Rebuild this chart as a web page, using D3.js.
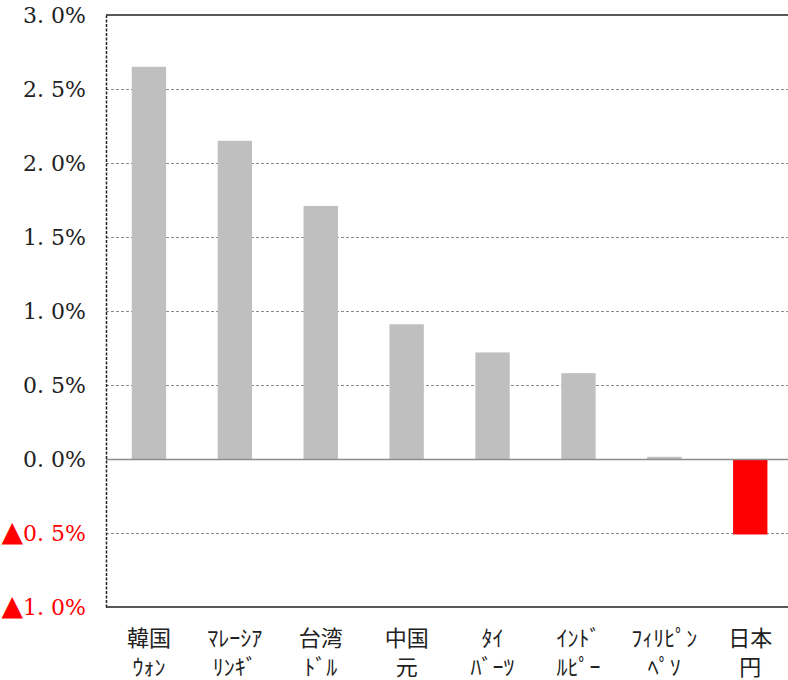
<!DOCTYPE html>
<html>
<head>
<meta charset="utf-8">
<script src="https://cdn.jsdelivr.net/npm/d3@7"></script>
<style>
  body { margin: 0; background: #fff; }
</style>
</head>
<body>
<div id="chart"></div>
<script>
const currencyTop = ['韓国', 'ﾏﾚｰｼｱ', '台湾', '中国', 'ﾀｲ', 'ｲﾝﾄﾞ', 'ﾌｨﾘﾋﾟﾝ', '日本'];
const currencyBottom = ['ｳｫﾝ', 'ﾘﾝｷﾞ', 'ﾄﾞﾙ', '元', 'ﾊﾞｰﾂ', 'ﾙﾋﾟｰ', 'ﾍﾟｿ', '円'];
const changes = [2.65, 2.15, 1.71, 0.91, 0.72, 0.58, 0.015, -0.51];
const tickValues = [3.0, 2.5, 2.0, 1.5, 1.0, 0.5, 0.0, -0.5, -1.0];

let width = 788;
let height = 680;

let margin = {
    top: 15,
    right: 0,
    bottom: 73,
    left: 106
}

let data = currencyTop.map((c, i) => ({ key: i, top: c, bottom: currencyBottom[i], value: changes[i] }));

// the category step runs a little past the right edge in the original
let x = d3.scaleBand()
        .domain(data.map(d => d.key))
        .range([margin.left, margin.left + 8 * 85.9])
        .paddingInner(0.6)
        .paddingOuter(0.3);

let y = d3.scaleLinear()
        .domain([-1.0, 3.0])
        .range([height - margin.bottom, margin.top]);

let svg = d3.select('#chart').append('svg')
        .attr('width', width)
        .attr('height', height);

// gridlines
svg.append('g')
    .selectAll('line')
    .data(tickValues.filter(t => t !== 3.0 && t !== -1.0 && t !== 0))
    .join('line')
        .attr('x1', margin.left)
        .attr('x2', width - margin.right)
        .attr('y1', d => Math.round(y(d)) + 0.5)
        .attr('y2', d => Math.round(y(d)) + 0.5)
        .attr('stroke', '#8c8c8c')
        .attr('stroke-dasharray', '3,2');

// bars
svg.append('g')
    .selectAll('rect')
    .data(data)
    .join('rect')
        .attr('x', d => x(d.key))
        .attr('width', x.bandwidth())
        .attr('y', d => y(Math.max(0, d.value)))
        .attr('height', d => Math.abs(y(d.value) - y(0)))
        .attr('fill', d => d.value < 0 ? '#ff0000' : '#bfbfbf');

// zero line
svg.append('line')
    .attr('x1', margin.left)
    .attr('x2', width - margin.right)
    .attr('y1', Math.round(y(0)) + 0.5)
    .attr('y2', Math.round(y(0)) + 0.5)
    .attr('stroke', '#8c8c8c')
    .attr('stroke-width', 1.5);

// top and bottom frame
svg.append('line')
    .attr('x1', margin.left).attr('x2', width - margin.right)
    .attr('y1', y(3.0)).attr('y2', y(3.0))
    .attr('stroke', '#222').attr('stroke-width', 1.5);
svg.append('line')
    .attr('x1', margin.left).attr('x2', width - margin.right)
    .attr('y1', y(-1.0)).attr('y2', y(-1.0))
    .attr('stroke', '#222').attr('stroke-width', 1.5);

// left axis
let yAxis = svg.append('g')
    .attr('transform', `translate(${margin.left},0)`)
    .call(d3.axisLeft(y).tickValues(tickValues).tickSize(0).tickPadding(20).tickFormat(''));

yAxis.select('.domain')
    .attr('stroke', '#222')
    .attr('stroke-width', 1.5)
    .attr('stroke-dasharray', '3,1.5');

let tickText = yAxis.selectAll('.tick text')
    .attr('font-family', '"DejaVu Serif", "Liberation Serif", serif')
    .attr('font-size', 22)
    .attr('fill', d => d < 0 ? '#ff0000' : '#222')
    .style('white-space', 'pre');

tickText.filter(d => d < 0)
    .append('tspan')
    .attr('font-family', '"DejaVu Sans", sans-serif')
    .attr('font-size', 28)
    .text('▲');

tickText.append('tspan')
    .text(d => Math.abs(d).toFixed(1).replace('.', '. ') + '%');

// category labels
let labels = svg.append('g')
    .selectAll('text')
    .data(data)
    .join('text')
        .attr('text-anchor', 'middle')
        .attr('font-family', '"Noto Sans CJK JP", sans-serif')
        .attr('font-size', 22)
        .attr('fill', '#222');

labels.append('tspan')
    .attr('x', d => x(d.key) + x.bandwidth() / 2)
    .attr('y', 646)
    .text(d => d.top);

labels.append('tspan')
    .attr('x', d => x(d.key) + x.bandwidth() / 2)
    .attr('y', 675)
    .text(d => d.bottom);
</script>
</body>
</html>
